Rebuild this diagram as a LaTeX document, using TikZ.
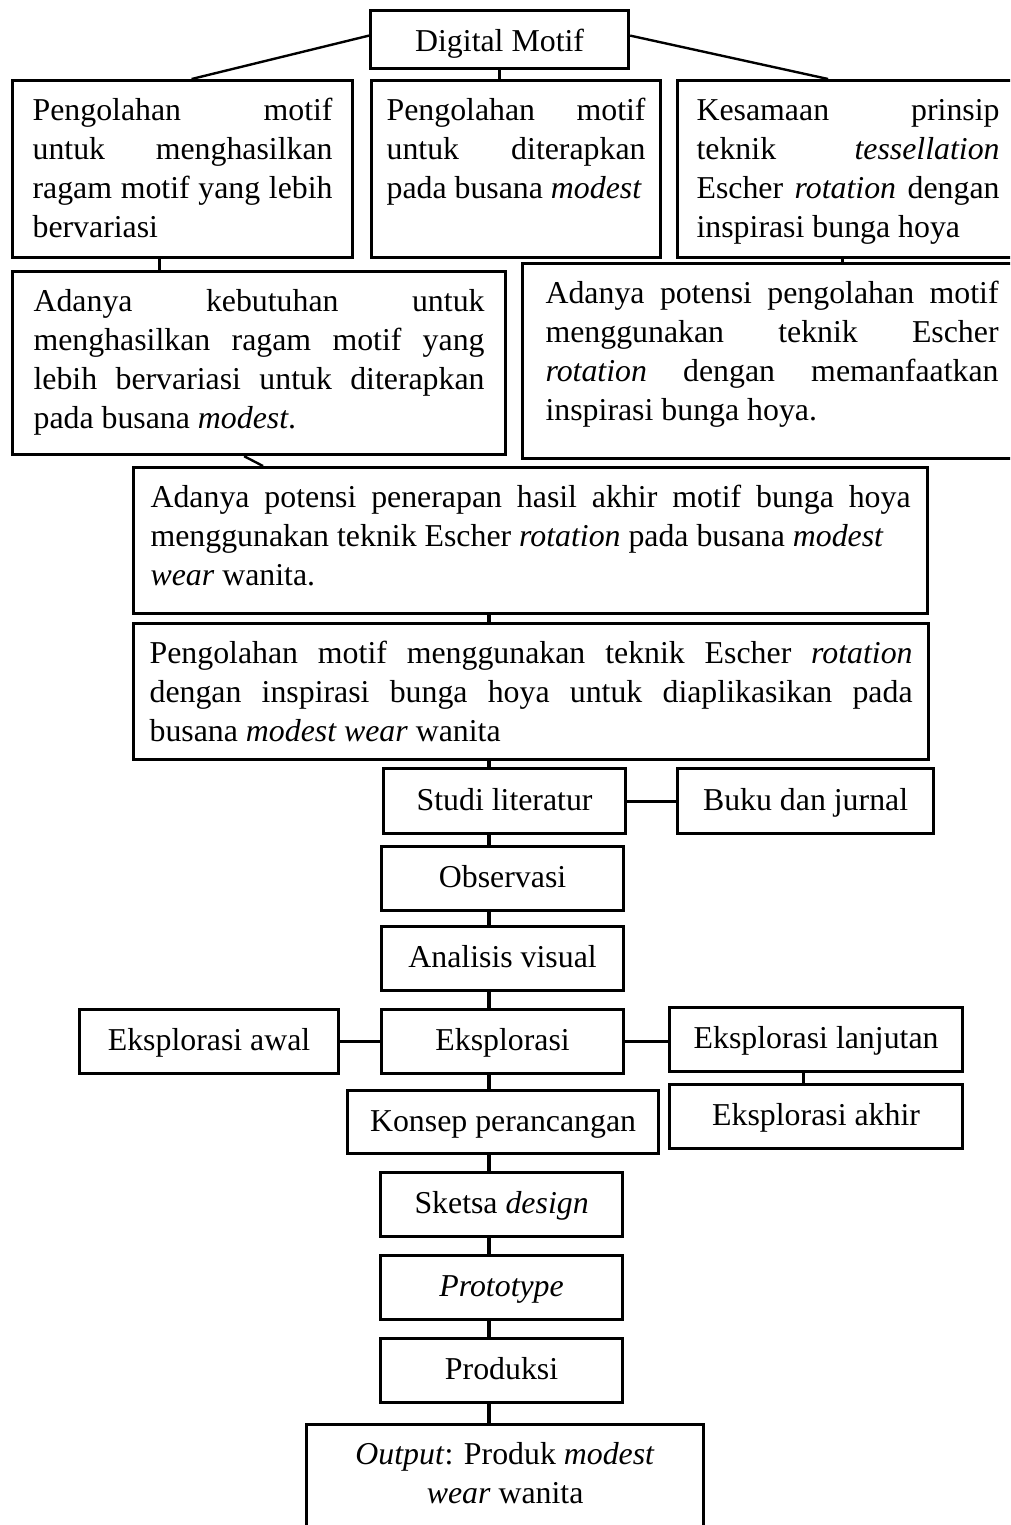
\documentclass[tikz,border=0pt]{standalone}
\usepackage{fontspec}
\setmainfont{Liberation Serif}

\newlength{\pxu}
\setlength{\pxu}{0.377pt}
% justified text block of fixed size for the wide boxes
\newcommand{\cell}[3]{\parbox[t][#2\pxu][t]{#1\pxu}{\tolerance=10000\hbadness=10000\strut#3}}

\tikzset{
  every node/.style={font=\fontsize{12}{14.7}\selectfont},
  tbox/.style={draw, line width=1.2pt, anchor=north west, inner sep=0pt, text height=9pt, text depth=2pt},
  midbox/.style={tbox, minimum width=242\pxu, minimum height=64\pxu},
  cellbox/.style={draw, line width=1.2pt, anchor=north west, inner ysep=13\pxu},
}

\begin{document}
\begin{tikzpicture}[x=0.377pt, y=-0.377pt, line width=1.2pt]
  \useasboundingbox (0,0) rectangle (1010,1525);
  \clip (0,0) rectangle (1010,1525);

  % top
  \node[tbox, minimum width=258\pxu, minimum height=58\pxu, text height=10pt, text depth=1pt] (dm) at (369,9) {Digital Motif};

  \node[cellbox, inner xsep=20\pxu] (b1) at (11,79) {\cell{300}{151}{Pengolahan motif\linebreak untuk menghasilkan\linebreak ragam motif yang lebih\linebreak bervariasi}};
  \node[cellbox, inner xsep=15\pxu] (b2) at (370,79) {\cell{259}{151}{Pengolahan motif\linebreak untuk diterapkan\linebreak pada busana \emph{modest}}};
  \node[cellbox, inner xsep=19\pxu] (b3) at (676,79) {\cell{303}{151}{Kesamaan prinsip\linebreak teknik \emph{tessellation}\linebreak Escher \emph{rotation} dengan\linebreak inspirasi bunga hoya}};

  \node[cellbox, inner xsep=21\pxu] (b4) at (11,270) {\cell{451}{157}{Adanya kebutuhan untuk\linebreak menghasilkan ragam motif yang\linebreak lebih bervariasi untuk diterapkan\linebreak pada busana \emph{modest}.}};
  \node[cellbox, inner xsep=23\pxu] (b5) at (521,262) {\cell{453}{169}{Adanya potensi pengolahan motif\linebreak menggunakan teknik Escher\linebreak \emph{rotation} dengan memanfaatkan\linebreak inspirasi bunga hoya.}};

  \node[cellbox, inner xsep=17\pxu] (b6) at (132,466) {\cell{760}{120}{Adanya potensi penerapan hasil akhir motif bunga hoya\linebreak menggunakan teknik Escher \emph{rotation} pada busana \emph{modest}\\ \emph{wear} wanita.}};
  \node[cellbox, inner xsep=16\pxu] (b7) at (132,622) {\cell{763}{110}{Pengolahan motif menggunakan teknik Escher \emph{rotation}\linebreak dengan inspirasi bunga hoya untuk diaplikasikan pada\linebreak busana \emph{modest wear} wanita}};

  % method steps
  \node[tbox, minimum width=242\pxu, minimum height=65\pxu] (sl) at (382,767) {Studi literatur};
  \node[tbox, minimum width=256\pxu, minimum height=65\pxu] (bj) at (676,767) {Buku dan jurnal};
  \node[midbox] (ob) at (380,845) {Observasi};
  \node[midbox] (av) at (380,925) {Analisis visual};
  \node[midbox] (ek) at (380,1008) {Eksplorasi};
  \node[tbox, minimum width=259\pxu, minimum height=64\pxu] (ea) at (78,1008) {Eksplorasi awal};
  \node[tbox, minimum width=293\pxu, minimum height=64\pxu] (el) at (668,1006) {Eksplorasi lanjutan};
  \node[tbox, minimum width=293\pxu, minimum height=64\pxu] (ex) at (668,1083) {Eksplorasi akhir};
  \node[tbox, minimum width=311\pxu, minimum height=63\pxu] (ko) at (346,1089) {Konsep perancangan};
  \node[midbox] (sd) at (379,1171) {Sketsa \emph{design}};
  \node[midbox] (pt) at (379,1254) {\emph{Prototype}};
  \node[midbox] (pr) at (379,1337) {Produksi};
  \node[cellbox, inner xsep=15\pxu] (op) at (305,1423) {\cell{367}{114}{\centering\emph{Output}: Produk \emph{modest}\\ \emph{wear} wanita}};

  % connectors
  \coordinate (spine) at (489,0);
  \coordinate (c1) at ([xshift=-23\pxu]b1.south);
  \coordinate (c3) at ([xshift=-6\pxu]b3.south);
  \coordinate (c4) at ([xshift=-15\pxu]b4.south);
  \coordinate (c6) at ([xshift=131\pxu]b6.north west);
  \coordinate (cl) at ([xshift=-13\pxu]el.south);

  \draw[line width=0.9pt] ([yshift=4\pxu]dm.west) -- ([xshift=9\pxu]b1.north);
  \draw[line width=0.9pt] ([yshift=4\pxu]dm.east) -- ([xshift=-20\pxu]b3.north);
  \draw (dm.south) -- (dm.south |- b2.north);
  \draw (c1) -- (c1 |- b4.north);
  \draw (c3) -- (c3 |- b5.north);
  \draw[line width=0.9pt] (c4) -- (c6);

  \foreach \from/\to in {b6/b7,b7/sl,sl/ob,ob/av,av/ek,ek/ko,ko/sd,sd/pt,pt/pr,pr/op}
    \draw (\from.south -| spine) -- (\to.north -| spine);

  \draw (sl.east) -- (bj.west);
  \draw (ea.east) -- (ek.west);
  \draw (ek.east) -- (ek.east -| el.west);
  \draw (cl) -- (cl |- ex.north);

\end{tikzpicture}
\end{document}
